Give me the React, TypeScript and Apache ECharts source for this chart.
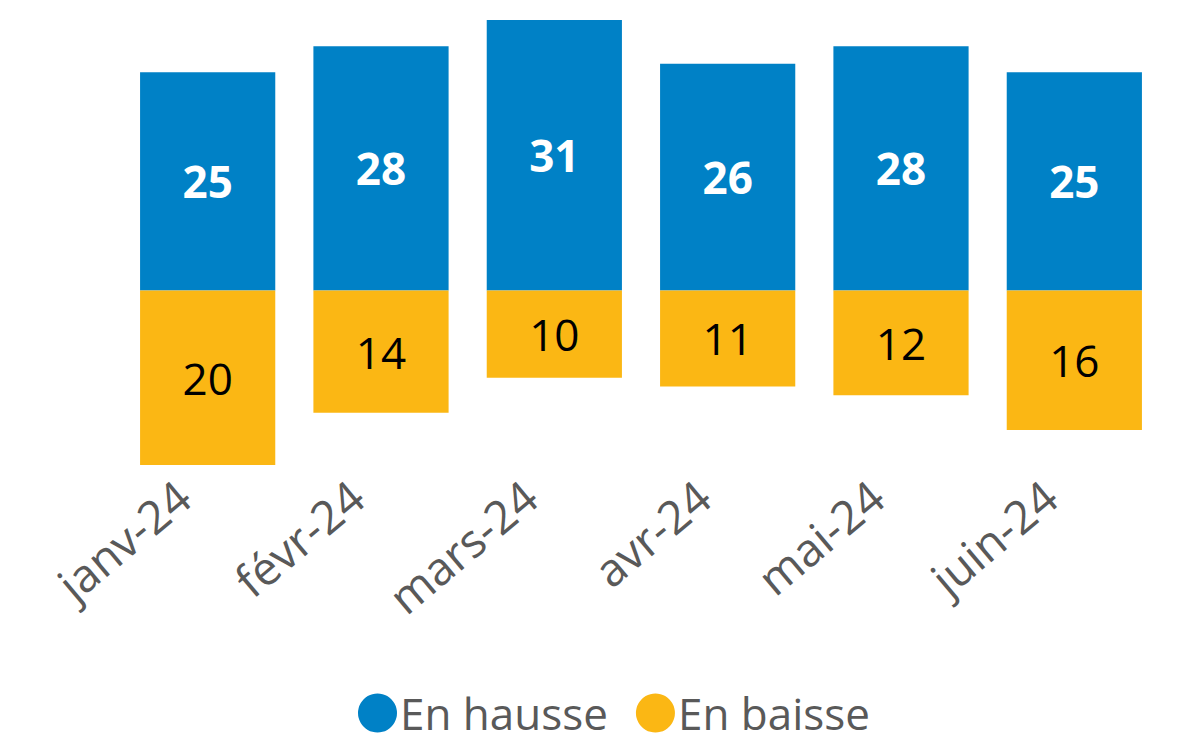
import React, { useEffect, useRef } from "react";
import * as echarts from "echarts";

const categories = ["janv-24", "févr-24", "mars-24", "avr-24", "mai-24", "juin-24"];
const hausse = [25, 28, 31, 26, 28, 25];
const baisse = [20, 14, 10, 11, 12, 16];
const seriesNames = ["En hausse", "En baisse"];
const colors = ["#0081C6", "#FBB714"];

export default function App() {
  const ref = useRef<HTMLDivElement>(null);
  useEffect(() => {
    const chart = echarts.init(ref.current!, null, { renderer: "svg" });
    const font = "'Open Sans', sans-serif";
    chart.setOption({
      animation: false,
      textStyle: { fontFamily: font },
      grid: { left: 113, right: 10, top: 12, bottom: 280, containLabel: false },
      legend: {
        top: 678,
        left: 345,
        icon: "circle",
        itemWidth: 39,
        itemHeight: 39,
        itemGap: 28,
        data: seriesNames,
        textStyle: { fontSize: 44, lineHeight: 44, color: "#595959", fontFamily: font, padding: [0, 0, 0, -2] },
      },
      xAxis: {
        type: "category",
        data: categories,
        axisLine: { show: false },
        axisTick: { show: false },
        axisLabel: {
          rotate: 40,
          fontSize: 46,
          color: "#595959",
          margin: 4,
          interval: 0,
          padding: [0, 32, 0, 0],
        },
      },
      yAxis: {
        type: "value",
        min: -20,
        max: 31,
        show: false,
        splitLine: { show: false },
      },
      series: [
        {
          name: seriesNames[0],
          type: "bar",
          stack: "s",
          data: hausse,
          barCategoryGap: "22%",
          itemStyle: { color: colors[0] },
          label: { show: true, position: "inside", color: "#fff", fontWeight: "bold", fontSize: 44 },
        },
        {
          name: seriesNames[1],
          type: "bar",
          stack: "s",
          data: baisse.map((v) => -v),
          barCategoryGap: "22%",
          itemStyle: { color: colors[1] },
          label: {
            show: true,
            position: "inside",
            color: "#000",
            fontSize: 44,
            formatter: (p: any) => String(Math.abs(p.value)),
          },
        },
      ],
    });
    return () => chart.dispose();
  }, []);
  return <div ref={ref} style={{ width: 1163, height: 737, marginBottom: -8 }} />;
}
